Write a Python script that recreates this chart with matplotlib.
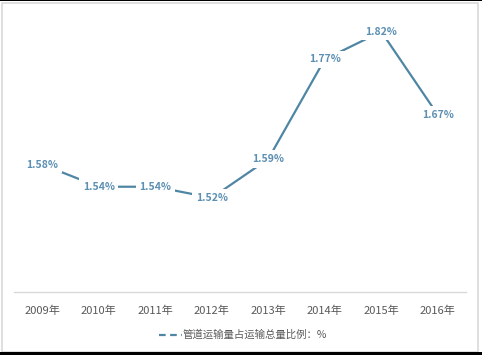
import matplotlib
matplotlib.use('Agg')
import matplotlib.pyplot as plt
from matplotlib.patches import Rectangle
from matplotlib.lines import Line2D

plt.rcParams['font.family'] = ['Noto Sans CJK SC', 'DejaVu Sans']

# 数据
years = ['2009年', '2010年', '2011年', '2012年', '2013年', '2014年', '2015年', '2016年']
ratio = [1.58, 1.54, 1.54, 1.52, 1.59, 1.77, 1.82, 1.67]
legend_label = '管道运输量占运输总量比例：%'

line_color = '#4f86a3'
label_color = '#5b8fb3'
text_gray = '#595959'

fig = plt.figure(figsize=(4.82, 3.55), dpi=100)
W, H = 482, 355
ax = fig.add_axes([14 / W, 1 - 292 / H, 452 / W, 277 / H])

x = list(range(len(years)))
ax.plot(x, ratio, color=line_color, lw=1.6, zorder=2)
for xi, v in zip(x, ratio):
    ax.text(xi, v, '%.2f%%' % v, ha='center', va='center', fontsize=7.5,
            color=label_color, fontweight='bold', zorder=3,
            bbox=dict(boxstyle='square,pad=0.35', fc='white', ec='none'))

ax.set_xlim(-0.5, len(years) - 0.5)
ax.set_ylim(1.35, 1.85)
ax.set_xticks(x)
ax.set_xticklabels(years, fontsize=8, color=text_gray)
ax.tick_params(axis='x', length=0, pad=10)
ax.set_yticks([])
for s in ['top', 'left', 'right']:
    ax.spines[s].set_visible(False)
ax.spines['bottom'].set_color('#d9d9d9')
ax.spines['bottom'].set_linewidth(1)

handle = Line2D([], [], color=line_color, lw=1.6, linestyle=(0, (3, 2)))
fig.legend([handle], [legend_label], loc='center', bbox_to_anchor=(243 / W, 1 - 335 / H),
           frameon=False, fontsize=7.5, labelcolor=text_gray, handlelength=2.2,
           handletextpad=0.1)

# 外框
fig.patches.append(Rectangle((1.5 / W, 1 - 351.5 / H), 476.5 / W, 349 / H,
                             transform=fig.transFigure, fill=False,
                             ec='#d9d9d9', lw=1.2))
fig.patches.append(Rectangle((0, 0), 1, 3 / H, transform=fig.transFigure,
                             fc='black', ec='none'))
fig.patches.append(Rectangle((0, 1 - 1 / H), 1, 1 / H, transform=fig.transFigure,
                             fc='black', ec='none'))

fig.savefig('out.png', dpi=100)
